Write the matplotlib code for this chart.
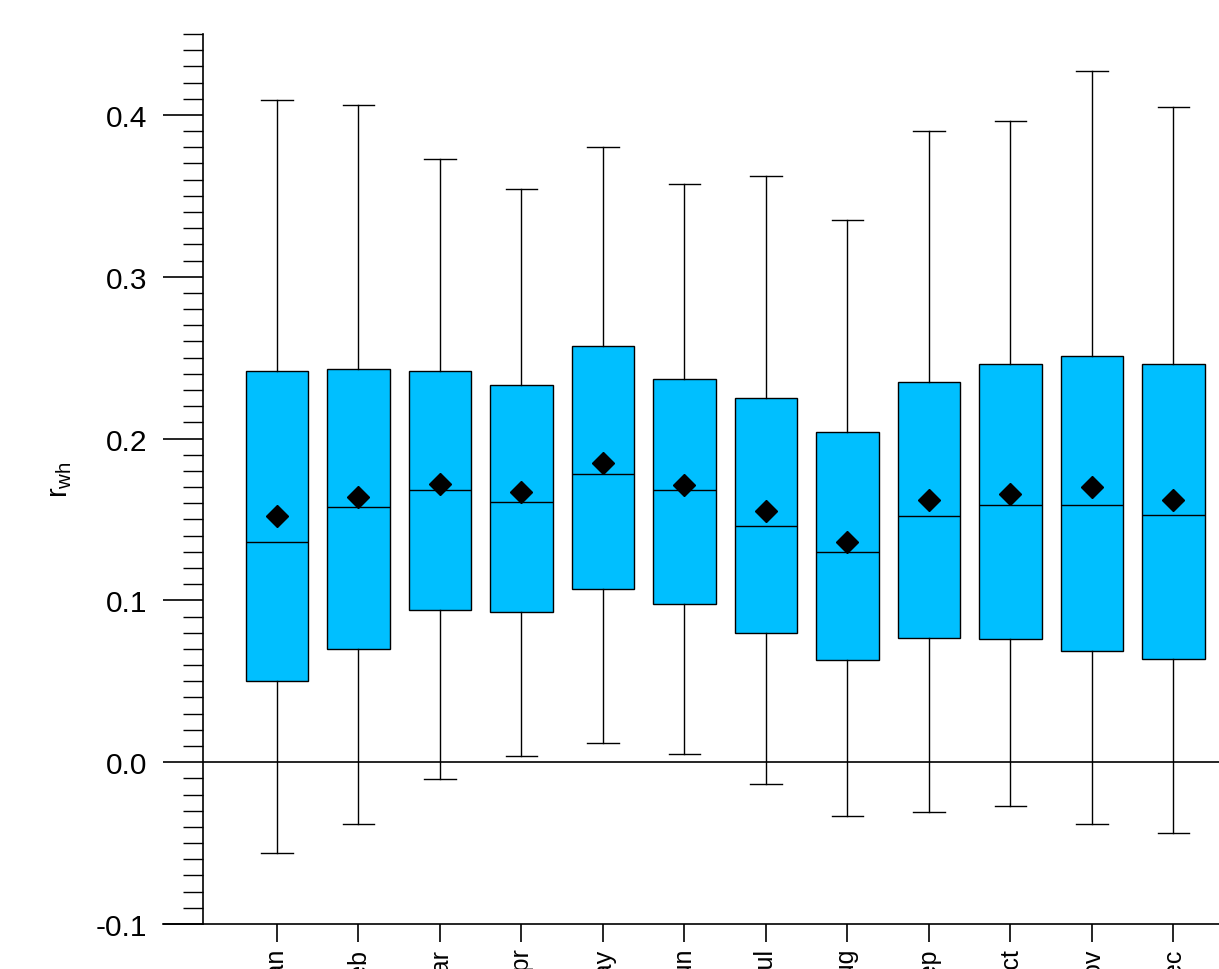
import matplotlib
matplotlib.use("Agg")
import matplotlib.pyplot as plt
from matplotlib.ticker import MultipleLocator

plt.rcParams['font.family'] = ['Liberation Sans', 'DejaVu Sans']

months = ["Jan", "Feb", "Mar", "Apr", "May", "Jun", "Jul", "Aug", "Sep", "Oct", "Nov", "Dec"]
whisk_hi = [0.409, 0.406, 0.373, 0.354, 0.380, 0.357, 0.362, 0.335, 0.390, 0.396, 0.427, 0.405]
q3 = [0.242, 0.243, 0.242, 0.233, 0.257, 0.237, 0.225, 0.204, 0.235, 0.246, 0.251, 0.246]
median = [0.136, 0.158, 0.168, 0.161, 0.178, 0.168, 0.146, 0.130, 0.152, 0.159, 0.159, 0.153]
q1 = [0.050, 0.070, 0.094, 0.093, 0.107, 0.098, 0.080, 0.063, 0.077, 0.076, 0.069, 0.064]
whisk_lo = [-0.056, -0.038, -0.0105, 0.004, 0.012, 0.005, -0.0136, -0.033, -0.031, -0.027, -0.038, -0.044]
mean = [0.152, 0.164, 0.172, 0.167, 0.185, 0.171, 0.155, 0.136, 0.162, 0.166, 0.170, 0.162]

W, H = 1219, 970
fig = plt.figure(figsize=(W / 100, H / 100), dpi=100)
ax = fig.add_axes([203 / W, 45 / H, (W - 203) / W, (925 - 35) / H])

stats = []
for i, m in enumerate(months):
    stats.append(dict(label=m, whislo=whisk_lo[i], q1=q1[i], med=median[i],
                      q3=q3[i], whishi=whisk_hi[i], mean=mean[i], fliers=[]))
positions = list(range(1, len(months) + 1))
ax.bxp(stats, positions=positions, widths=0.77, patch_artist=True, showmeans=True,
       boxprops=dict(facecolor='#00BFFF', edgecolor='black', linewidth=1.0),
       medianprops=dict(color='black', linewidth=1.0),
       whiskerprops=dict(color='black', linewidth=1.0),
       capprops=dict(color='black', linewidth=1.0),
       meanprops=dict(marker='D', markerfacecolor='black', markeredgecolor='black',
                      markersize=11))

ax.axhline(0, color='black', linewidth=1.2, zorder=0)

ax.set_xlim(0.092, 12.56)
ax.set_ylim(-0.1, 0.45)
ax.spines['top'].set_visible(False)
ax.spines['right'].set_visible(False)
ax.spines['left'].set_linewidth(1.2)
ax.spines['bottom'].set_linewidth(1.2)

# extend bottom axis line to the left of the y-axis
ax.plot([-40 / (W - 203), 0], [0, 0], transform=ax.transAxes, color='black',
        linewidth=1.2, clip_on=False)

ax.yaxis.set_minor_locator(MultipleLocator(0.01))
ax.set_yticks([-0.1, 0.0, 0.1, 0.2, 0.3, 0.4])
ax.set_yticklabels(["-0.1", "0.0", "0.1", "0.2", "0.3", "0.4"])
ax.tick_params(axis='y', which='major', direction='out', length=29, width=1.2,
               labelsize=21.5, pad=11)
ax.tick_params(axis='y', which='minor', direction='out', length=14.5, width=1.0)

ax.set_xticks(positions)
ax.set_xticklabels(months, rotation=90, va='top')
ax.tick_params(axis='x', which='major', direction='out', length=13, width=1.2,
               labelsize=18, pad=4)

ax.set_ylabel(r'$\mathregular{r_{wh}}$', fontsize=21, labelpad=16)

fig.savefig("out.png", dpi=100)
